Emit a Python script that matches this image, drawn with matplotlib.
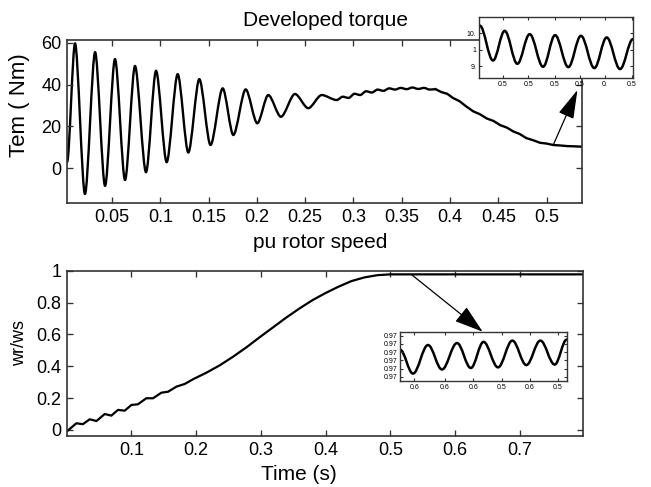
import matplotlib
matplotlib.use("Agg")
import matplotlib.pyplot as plt
from matplotlib.path import Path
from matplotlib.patches import PathPatch

plt.rcParams['font.family'] = ['Liberation Sans', 'DejaVu Sans']

# ---------------- data ----------------
# oscillating part of the torque (alternating extrema)
torque_osc_t = [0.0035, 0.0117, 0.022, 0.0325, 0.0428, 0.0531, 0.0635, 0.0738, 0.0852, 0.0956,
                0.1066, 0.118, 0.129, 0.1404, 0.152, 0.1646, 0.1756, 0.1884, 0.2004, 0.2118,
                0.2249, 0.2394, 0.2532, 0.2671, 0.2826, 0.289, 0.295, 0.301, 0.307, 0.313,
                0.319, 0.325, 0.331, 0.337, 0.343, 0.349, 0.355, 0.361, 0.367, 0.373,
                0.379, 0.385]
torque_osc_v = [3.0, 59.7, -12.3, 55.5, -8.4, 52.2, -5.6, 48.9, -1.9, 46.6,
                2.9, 45.0, 7.5, 42.6, 11.1, 38.2, 15.9, 37.7, 21.5, 35.0,
                24.6, 35.5, 28.7, 35.0, 32.6, 34.2, 33.6, 35.6, 35.0, 36.8,
                36.2, 37.6, 37.0, 38.2, 37.6, 38.4, 37.8, 38.6, 37.9, 38.4,
                37.6, 37.8]
# decaying tail of the torque
torque_tail_t = [0.385, 0.391, 0.397, 0.403, 0.410, 0.416, 0.424, 0.431, 0.438,
                 0.445, 0.452, 0.459, 0.4654, 0.472, 0.479, 0.486, 0.493, 0.500, 0.507,
                 0.514, 0.521, 0.528, 0.537]
torque_tail_v = [37.8, 36.4, 35.6, 33.6, 32.0, 29.8, 27.2, 25.8, 23.8,
                 22.6, 20.6, 19.4, 17.6, 16.4, 14.4, 13.4, 12.2, 11.8, 11.1,
                 10.9, 10.6, 10.5, 10.3]

speed_t = [0.000, 0.015, 0.025, 0.0355, 0.046, 0.0587, 0.069, 0.0793, 0.0896, 0.100,
           0.110, 0.123, 0.1334, 0.1463, 0.1566, 0.1695, 0.1824, 0.195, 0.216, 0.2365,
           0.257, 0.2777, 0.298, 0.319, 0.3396, 0.36, 0.38, 0.40, 0.42, 0.44,
           0.46, 0.48, 0.50, 0.60, 0.70, 0.797]
speed_v = [-0.01, 0.042, 0.036, 0.067, 0.056, 0.100, 0.090, 0.126, 0.121, 0.157,
           0.161, 0.199, 0.199, 0.234, 0.240, 0.272, 0.289, 0.318, 0.360, 0.406,
           0.460, 0.519, 0.582, 0.645, 0.707, 0.764, 0.816, 0.860, 0.900, 0.935,
           0.958, 0.972, 0.977, 0.977, 0.977, 0.977]

# zoomed torque (inset, extrema)
zt_t = [0.53005, 0.53091, 0.53167, 0.53249, 0.53329, 0.53416, 0.53494, 0.5358,
        0.53662, 0.53749, 0.53829, 0.53916, 0.5400]
zt_v = [10.74, 9.68, 10.58, 9.58, 10.48, 9.49, 10.45, 9.48, 10.43, 9.45, 10.38, 9.42, 10.33]
zt_xticks = [0.53154, 0.5332, 0.53494, 0.53656, 0.53818, 0.53992]
zt_xlabels = ["0.5", "0.5", "0.5", "0.5", "0.", "0.5"]
zt_yticks = [9.5, 10.0, 10.5]
zt_ylabels = ["9.", "1", "10."]

# zoomed speed (inset, extrema)
zs_t = [0.6000, 0.60078, 0.60168, 0.60252, 0.60342, 0.60425, 0.60501, 0.60588,
        0.60674, 0.60758, 0.60842, 0.60928, 0.6100]
zs_v = [0.97565, 0.97419, 0.97593, 0.97444, 0.97605, 0.97453, 0.97612, 0.97457,
        0.9762, 0.97471, 0.9762, 0.97474, 0.97626]
zs_xticks = [0.60086, 0.6027, 0.6044, 0.6061, 0.6078, 0.60946]
zs_xlabels = ["0.6", "0.6", "0.6", "0.5", "0.6", "0.5"]
zs_yticks = [0.9740, 0.9745, 0.9750, 0.9755, 0.9760, 0.9765]
zs_ylabels = ["0.97"] * 6

top_xticks = [0.05, 0.1, 0.15, 0.2, 0.25, 0.3, 0.35, 0.4, 0.45, 0.5]
top_xlabels = ["0.05", "0.1", "0.15", "0.2", "0.25", "0.3", "0.35", "0.4", "0.45", "0.5"]
top_yticks = [0, 20, 40, 60]
bot_xticks = [0.1, 0.2, 0.3, 0.4, 0.5, 0.6, 0.7]
bot_xlabels = ["0.1", "0.2", "0.3", "0.4", "0.5", "0.6", "0.7"]
bot_yticks = [0, 0.2, 0.4, 0.6, 0.8, 1.0]
bot_ylabels = ["0", "0.2", "0.4", "0.6", "0.8", "1"]

# ---------------- figure ----------------
fig = plt.figure(figsize=(6.51, 4.87), dpi=100)
W, H = 651.0, 487.0

def fax(l, t, r, b):
    return fig.add_axes([l / W, 1 - b / H, (r - l) / W, (b - t) / H])

def style(ax, fs, lw=1.2, length=4):
    for s in ax.spines.values():
        s.set_linewidth(lw)
        s.set_color('#333333')
    ax.tick_params(direction='in', top=True, right=True, length=length,
                   width=lw * 0.8, labelsize=fs, color='#333333', pad=4)

def smooth(ax, xs, ys, lw, k=0.36):
    verts = [(xs[0], ys[0])]
    codes = [Path.MOVETO]
    for i in range(len(xs) - 1):
        dx = xs[i + 1] - xs[i]
        verts += [(xs[i] + dx * k, ys[i]), (xs[i + 1] - dx * k, ys[i + 1]),
                  (xs[i + 1], ys[i + 1])]
        codes += [Path.CURVE4] * 3
    ax.add_patch(PathPatch(Path(verts, codes), fill=False, lw=lw, ec='black',
                           joinstyle='round', capstyle='round', transform=ax.transData))

# top axes
ax1 = fax(67, 40, 582, 203)
smooth(ax1, torque_osc_t, torque_osc_v, 1.7, k=0.3)
ax1.plot(torque_tail_t, torque_tail_v, color='black', lw=1.7, solid_joinstyle='round')
ax1.set_xlim(0.0034, 0.5366)
ax1.set_ylim(-16.6, 61.3)
ax1.set_xticks(top_xticks)
ax1.set_xticklabels(top_xlabels)
ax1.set_yticks(top_yticks)
style(ax1, 13)

# bottom axes
ax2 = fax(67, 270.7, 582.7, 436)
ax2.plot(speed_t, speed_v, color='black', lw=1.6, solid_joinstyle='round')
ax2.set_xlim(0.0005, 0.797)
ax2.set_ylim(-0.038, 1.0)
ax2.set_xticks(bot_xticks)
ax2.set_xticklabels(bot_xlabels)
ax2.set_yticks(bot_yticks)
ax2.set_yticklabels(bot_ylabels)
style(ax2, 13)

# labels
fig.text(325.5 / W, 1 - 20 / H, "Developed torque", ha='center', va='center', fontsize=15)
fig.text(320 / W, 1 - 243 / H, "pu rotor speed", ha='center', va='center', fontsize=15)
fig.text(299 / W, 1 - 475 / H, "Time (s)", ha='center', va='center', fontsize=15)
fig.text(20 / W, 1 - 105 / H, "Tem ( Nm)", ha='center', va='center', rotation=90, fontsize=16)
fig.text(20 / W, 1 - 343 / H, "wr/ws", ha='center', va='center', rotation=90, fontsize=13)

# arrows
ax1.annotate('', xy=(0.5319, 37.4), xytext=(0.5068, 11.1),
             arrowprops=dict(arrowstyle='-|>,head_length=1.0,head_width=0.28',
                             color='black', lw=0.9, mutation_scale=18, shrinkA=0, shrinkB=0),
             annotation_clip=False)
ax2.annotate('', xy=(0.6425, 0.617), xytext=(0.5328, 0.975),
             arrowprops=dict(arrowstyle='-|>,head_length=1.0,head_width=0.32',
                             color='black', lw=0.9, mutation_scale=18, shrinkA=0, shrinkB=0),
             annotation_clip=False)

# top inset
ins1 = fax(479, 17, 633, 78)
ins1.set_facecolor('white')
smooth(ins1, zt_t, zt_v, 1.8)
ins1.set_xlim(0.530, 0.540)
ins1.set_ylim(9.15, 11.0)
ins1.set_xticks(zt_xticks)
ins1.set_xticklabels(zt_xlabels)
ins1.set_yticks(zt_yticks)
ins1.set_yticklabels(zt_ylabels)
style(ins1, 5, lw=1.0, length=2)
ins1.tick_params(pad=2)

# bottom inset
ins2 = fax(400, 331.7, 566.7, 381)
ins2.set_facecolor('white')
smooth(ins2, zs_t, zs_v, 1.8)
ins2.set_xlim(0.600, 0.610)
ins2.set_ylim(0.97374, 0.97674)
ins2.set_xticks(zs_xticks)
ins2.set_xticklabels(zs_xlabels)
ins2.set_yticks(zs_yticks)
ins2.set_yticklabels(zs_ylabels)
style(ins2, 5, lw=1.0, length=2)
ins2.tick_params(pad=2)

fig.savefig("out.png", dpi=100)
